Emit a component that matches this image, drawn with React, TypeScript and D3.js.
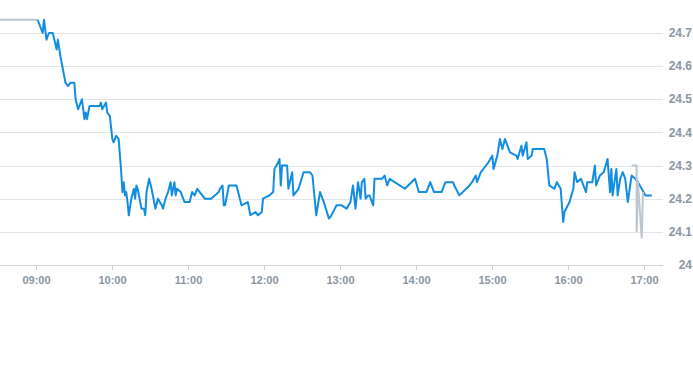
import React from 'react'
import * as d3 from 'd3'

// regular session
const times: string[] = [
  '09:01', '09:05', '09:06', '09:08', '09:10', '09:13', '09:16', '09:17', '09:19', '09:21',
  '09:23', '09:25', '09:27', '09:30', '09:31', '09:33', '09:36', '09:38', '09:39', '09:40',
  '09:42', '09:50', '09:51', '09:52', '09:55', '09:56', '09:58', '10:00', '10:01', '10:03',
  '10:05', '10:07', '10:08', '10:09', '10:10', '10:11', '10:12', '10:13', '10:15', '10:17',
  '10:18', '10:19', '10:20', '10:22', '10:23', '10:25', '10:26', '10:27', '10:29', '10:31',
  '10:34', '10:36', '10:39', '10:40', '10:42', '10:44', '10:46', '10:47', '10:49', '10:50',
  '10:51', '10:54', '10:57', '11:01', '11:03', '11:05', '11:07', '11:09', '11:13', '11:18',
  '11:24', '11:25', '11:27', '11:28', '11:29', '11:32', '11:37', '11:38', '11:42', '11:47',
  '11:49', '11:53', '11:55', '11:58', '11:59', '12:04', '12:07', '12:08', '12:11', '12:12',
  '12:13', '12:14', '12:18', '12:19', '12:22', '12:23', '12:27', '12:31', '12:34', '12:36',
  '12:38', '12:41', '12:44', '12:47', '12:51', '12:53', '12:57', '13:01', '13:05', '13:08',
  '13:10', '13:12', '13:14', '13:16', '13:17', '13:19', '13:20', '13:22', '13:23', '13:26',
  '13:27', '13:33', '13:35', '13:37', '13:39', '13:51', '13:59', '14:02', '14:08', '14:11',
  '14:14', '14:20', '14:23', '14:25', '14:28', '14:29', '14:30', '14:34', '14:42', '14:44',
  '14:47', '14:48', '14:51', '14:57', '15:00', '15:01', '15:04', '15:06', '15:08', '15:10',
  '15:14', '15:19', '15:20', '15:23', '15:24', '15:27', '15:28', '15:31', '15:32', '15:41',
  '15:43', '15:45', '15:49', '15:51', '15:54', '15:56', '15:57', '16:01', '16:04', '16:05',
  '16:07', '16:10', '16:14', '16:15', '16:19', '16:21', '16:22', '16:25', '16:28', '16:31',
  '16:33', '16:34', '16:35', '16:38', '16:39', '16:41', '16:43', '16:45', '16:47', '16:50',
  '16:53', '16:55', '16:58', '17:01', '17:06',
]
const prices: number[] = [
  24.74, 24.70, 24.74, 24.68, 24.70, 24.70, 24.65, 24.68, 24.63, 24.59,
  24.55, 24.54, 24.55, 24.55, 24.50, 24.47, 24.50, 24.44, 24.46, 24.44,
  24.48, 24.48, 24.49, 24.47, 24.49, 24.46, 24.45, 24.38, 24.37, 24.39,
  24.38, 24.28, 24.22, 24.25, 24.21, 24.22, 24.19, 24.15, 24.20, 24.23,
  24.20, 24.24, 24.23, 24.19, 24.17, 24.17, 24.15, 24.22, 24.26, 24.23,
  24.17, 24.20, 24.18, 24.17, 24.20, 24.22, 24.25, 24.21, 24.25, 24.21,
  24.23, 24.22, 24.19, 24.19, 24.22, 24.21, 24.23, 24.22, 24.20, 24.20,
  24.22, 24.23, 24.24, 24.18, 24.18, 24.24, 24.24, 24.24, 24.18, 24.19,
  24.15, 24.16, 24.15, 24.16, 24.20, 24.21, 24.22, 24.29, 24.31, 24.32,
  24.24, 24.30, 24.30, 24.23, 24.28, 24.21, 24.23, 24.28, 24.28, 24.28,
  24.27, 24.15, 24.22, 24.19, 24.14, 24.15, 24.18, 24.18, 24.17, 24.19,
  24.24, 24.17, 24.25, 24.20, 24.25, 24.26, 24.20, 24.21, 24.21, 24.18,
  24.26, 24.26, 24.27, 24.24, 24.26, 24.23, 24.26, 24.22, 24.22, 24.25,
  24.22, 24.22, 24.25, 24.25, 24.25, 24.25, 24.24, 24.21, 24.24, 24.25,
  24.27, 24.25, 24.28, 24.31, 24.33, 24.29, 24.33, 24.38, 24.35, 24.38,
  24.34, 24.33, 24.32, 24.36, 24.33, 24.37, 24.32, 24.33, 24.35, 24.35,
  24.32, 24.24, 24.23, 24.25, 24.23, 24.13, 24.16, 24.19, 24.23, 24.28,
  24.25, 24.26, 24.22, 24.25, 24.25, 24.30, 24.24, 24.27, 24.28, 24.32,
  24.22, 24.29, 24.21, 24.29, 24.21, 24.26, 24.28, 24.26, 24.19, 24.27,
  24.26, 24.25, 24.23, 24.21, 24.21,
]

// out-of-session prints (grey)
const preTimes: string[] = ['08:25', '09:01']
const prePrices: number[] = [24.74, 24.74]
const postTimes: string[] = ['16:50', '16:54', '16:54', '16:55', '16:58', '16:59']
const postPrices: number[] = [24.30, 24.30, 24.10, 24.25, 24.08, 24.22]

const yTicks: number[] = [24, 24.1, 24.2, 24.3, 24.4, 24.5, 24.6, 24.7]
const xTicks: string[] = ['09:00', '10:00', '11:00', '12:00', '13:00', '14:00', '15:00', '16:00', '17:00']

const toMin = (s: string) => {
  const [h, m] = s.split(':').map(Number)
  return (h - 9) * 60 + m
}

export default function App() {
  const width = 693
  const height = 365
  const plotRight = 663
  const plotTop = 33
  const plotBottom = 265

  const x = d3.scaleLinear().domain([-28.7, 494.8]).range([0, plotRight])
  const y = d3.scaleLinear().domain([24, 24.7]).range([plotBottom, plotTop])

  const line = d3.line<[string, number]>()
    .x(d => x(toMin(d[0])))
    .y(d => y(d[1]))

  const main = d3.zip(times, prices) as [string, number][]
  const pre = d3.zip(preTimes, prePrices) as [string, number][]
  const post = d3.zip(postTimes, postPrices) as [string, number][]

  const labelFont = 'Helvetica, Arial, "Liberation Sans", sans-serif'

  return (
    <div style={{ position: 'absolute', left: 0, top: 0 }}>
      <svg width={width} height={height} style={{ display: 'block' }}>
        <defs>
          <clipPath id="plot">
            <rect x={0} y={0} width={plotRight} height={plotBottom} />
          </clipPath>
        </defs>
        {yTicks.filter(t => t > 24).map(t => (
          <line key={t} x1={0} x2={plotRight} y1={Math.round(y(t)) + 0.5} y2={Math.round(y(t)) + 0.5}
            stroke="#e3e6e8" strokeWidth={1} />
        ))}
        <line x1={0} x2={plotRight} y1={plotBottom + 0.5} y2={plotBottom + 0.5} stroke="#ccd3d8" strokeWidth={1} />
        {xTicks.map(t => (
          <g key={t} transform={`translate(${Math.round(x(toMin(t))) + 0.5},${plotBottom})`}>
            <line y1={0} y2={5} stroke="#ccd3d8" />
            <text y={19} textAnchor="middle" fontSize={11} fontWeight={700}
              fill="#8a96a3" fontFamily={labelFont}>{t}</text>
          </g>
        ))}
        {yTicks.map(t => (
          <text key={t} x={692} y={y(t)} dy="0.35em" textAnchor="end" fontSize={12} fontWeight={700}
            fill="#8a96a3" fontFamily={labelFont}>{d3.format('~f')(+t.toFixed(1))}</text>
        ))}
        <g clipPath="url(#plot)">
          <path d={line(pre) || ''} fill="none" stroke="#b9c4cc" strokeWidth={2} />
          <path d={line(main) || ''} fill="none" stroke="#118de2" strokeWidth={2} strokeLinejoin="round" />
          <path d={line(post) || ''} fill="none" stroke="#bcc6ce" strokeWidth={2} />
        </g>
      </svg>
    </div>
  )
}
